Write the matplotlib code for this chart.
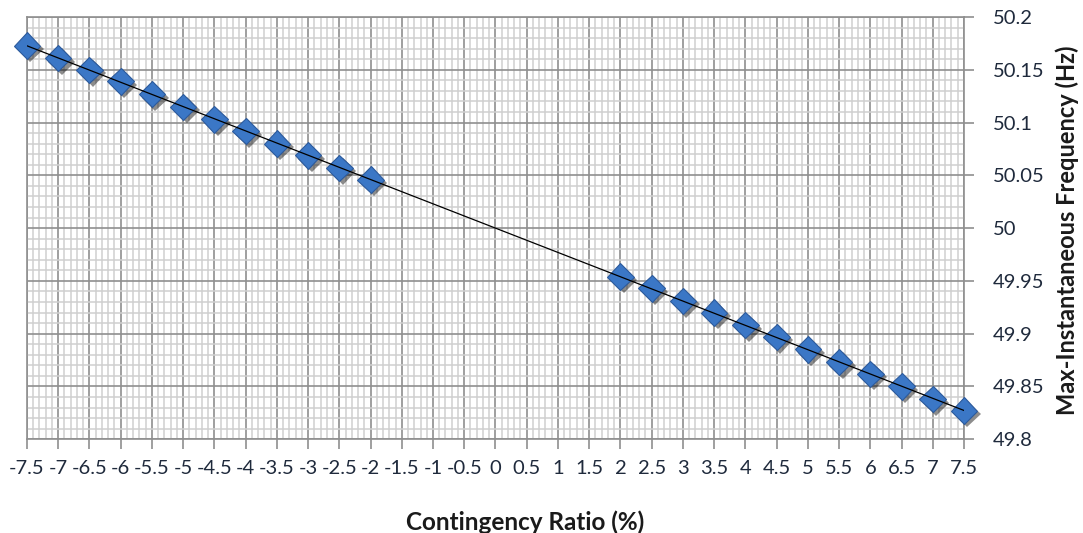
import numpy as np
import matplotlib
matplotlib.use('Agg')
import matplotlib.pyplot as plt
import matplotlib.patheffects as pe
from matplotlib.ticker import MultipleLocator, FormatStrFormatter

plt.rcParams['font.family'] = ['Lato', 'DejaVu Sans']
plt.rcParams['axes.unicode_minus'] = False

# Contingency ratio (%) and max instantaneous frequency (Hz)
ratio = [-7.5, -7, -6.5, -6, -5.5, -5, -4.5, -4, -3.5, -3, -2.5, -2,
         2, 2.5, 3, 3.5, 4, 4.5, 5, 5.5, 6, 6.5, 7, 7.5]
freq = [50.173, 50.161, 50.150, 50.139, 50.127, 50.115, 50.103, 50.092,
        50.080, 50.069, 50.057, 50.046,
        49.954, 49.943, 49.931, 49.920, 49.908, 49.897, 49.885, 49.873,
        49.862, 49.850, 49.838, 49.827]

W, H = 1083, 533
fig = plt.figure(figsize=(W / 100, H / 100), dpi=100)
ax = fig.add_axes([0.0249, 0.176, 0.8652, 0.792])

# linear trendline through the data (Excel-style)
coef = np.polyfit(ratio, freq, 1)
xs = np.array([min(ratio), max(ratio)])
ax.plot(xs, np.polyval(coef, xs), color='black', lw=0.9, zorder=4)

shadow = [pe.SimplePatchShadow(offset=(2.5, -2.5), shadow_rgbFace='black', alpha=0.45),
          pe.Normal()]
ax.plot(ratio, freq, linestyle='none', marker='D', markersize=13.5,
        markerfacecolor='#3b77c6', markeredgecolor='#2c5a9c', markeredgewidth=0.8,
        zorder=3, path_effects=shadow, clip_on=False)

ax.set_xlim(-7.5, 7.5)
ax.set_ylim(49.8, 50.2)

ax.xaxis.set_major_locator(MultipleLocator(0.5))
ax.xaxis.set_minor_locator(MultipleLocator(0.1))
ax.yaxis.set_major_locator(MultipleLocator(0.05))
ax.yaxis.set_minor_locator(MultipleLocator(0.01))
ax.xaxis.set_major_formatter(FormatStrFormatter('%g'))
ax.yaxis.set_major_formatter(FormatStrFormatter('%g'))

ax.yaxis.tick_right()

ax.grid(which='minor', color='#cfcfcf', lw=1.1)
ax.grid(which='major', color='#8f8f8f', lw=1.2)
ax.set_axisbelow(True)

ax.tick_params(which='major', direction='out', length=7, width=1.2, color='#8f8f8f',
               labelsize=14.5, labelcolor='#1f2a3c')
ax.tick_params(axis='x', pad=8)
ax.tick_params(axis='y', pad=14)
ax.tick_params(which='minor', length=0)

for s in ax.spines.values():
    s.set_color('#8f8f8f')
    s.set_linewidth(1.2)

# axis titles placed where the reference has them
fig.text(525 / W, 1 - 522 / H, 'Contingency Ratio (%)', fontsize=17.5,
         fontweight='bold', color='#1a1a1a', ha='center', va='center')
fig.text(1067 / W, 1 - 230 / H, 'Max-Instantaneous Frequency (Hz)', fontsize=17,
         fontweight='bold', color='#1a1a1a', ha='center', va='center', rotation=90)

fig.savefig('out.png', dpi=100)
